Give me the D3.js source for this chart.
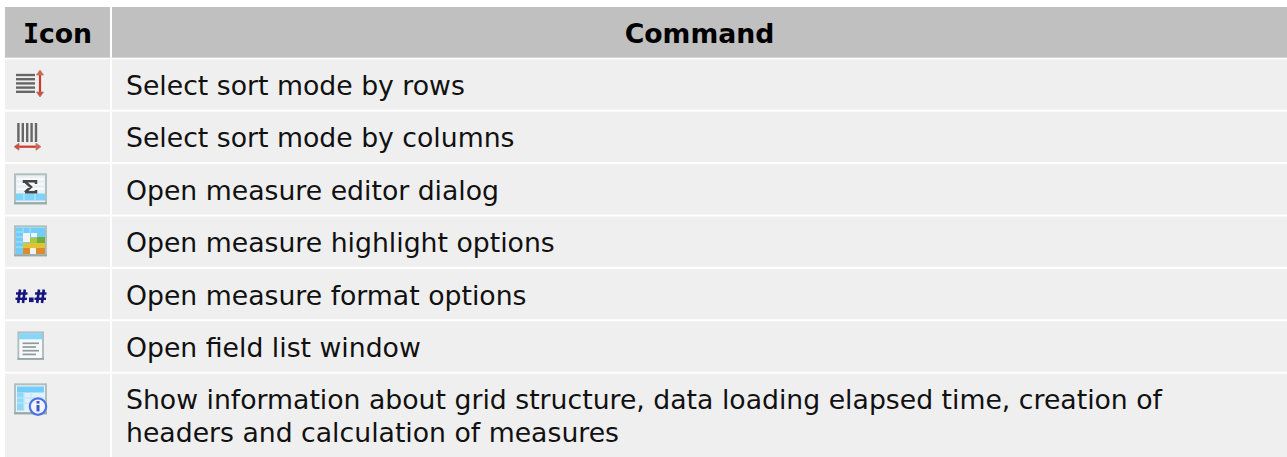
<!DOCTYPE html>
<html><head><meta charset="utf-8">
<script src="https://cdn.jsdelivr.net/npm/d3@7/dist/d3.min.js"></script>
<style>html,body{margin:0;padding:0;background:#fff}svg{display:block}
text{font-family:"DejaVu Sans",sans-serif;fill:#111}</style></head><body>
<script>
const headers = ["Icon", "Command"];
const iconKinds = ["rows","cols","sigma","highlight","format","fields","info"];
const commands = [
 ["Select sort mode by rows"],
 ["Select sort mode by columns"],
 ["Open measure editor dialog"],
 ["Open measure highlight options"],
 ["Open measure format options"],
 ["Open field list window"],
 ["Show information about grid structure, data loading elapsed time, creation of","headers and calculation of measures"]
];
const W=1287,H=457,FS=26.7;
const svg=d3.select("body").append("svg").attr("width",W).attr("height",H);
svg.append("defs").append("filter").attr("id","soft").attr("x","-20%").attr("y","-20%").attr("width","140%").attr("height","140%")
  .append("feGaussianBlur").attr("stdDeviation",0.7);
const rowY=d3.scaleLinear().domain([0,1]).range([59.3,111.7]);
const rowH=50.4;
const col=[{x:5,w:105},{x:112,w:1175}];

function rect(g,x,y,w,h,f,s,sw){const e=g.append("rect").attr("x",x).attr("y",y).attr("width",w).attr("height",h).attr("fill",f);if(s)e.attr("stroke",s).attr("stroke-width",sw||1.3);return e;}
function line(g,x1,y1,x2,y2,c,w){return g.append("line").attr("x1",x1).attr("y1",y1).attr("x2",x2).attr("y2",y2).attr("stroke",c).attr("stroke-width",w);}
function path(g,d,c,w,f){return g.append("path").attr("d",d).attr("stroke",c||"none").attr("stroke-width",w||0).attr("fill",f||"none");}
function arrowV(g,x,y1,y2){line(g,x,y1+2,x,y2-2,"#cc3a2a",2.2);
  path(g,`M${x-3.5},${y1+5}L${x},${y1}L${x+3.5},${y1+5}Z`,"#b9796f",0.8,"#d9604f");
  path(g,`M${x-3.5},${y2-5}L${x},${y2}L${x+3.5},${y2-5}Z`,"#b9796f",0.8,"#cc4a3a");}
function arrowH(g,y,x1,x2){line(g,x1+2,y,x2-2,y,"#cc3a2a",2.2);
  path(g,`M${x1+5},${y-3.5}L${x1},${y}L${x1+5},${y+3.5}Z`,"#b9796f",0.8,"#cc4a3a");
  path(g,`M${x2-5},${y-3.5}L${x2},${y}L${x2-5},${y+3.5}Z`,"#b9796f",0.8,"#d9604f");}
function box(g,x,y,w,h){
  rect(g,x,y,w,h,"#e9f1f2","#b0c0c0",2);
  line(g,x-1,y+h,x+w+1,y+h,"#98a8a8",2);
}
const drawIcon={
  rows(g){ [75,79.2,83.4,87.6,91.8].forEach(v=>line(g,16,v,35,v,"#666",2.4)); arrowV(g,40,70,97); },
  cols(g){ [18.4,22.8,27.2,31.6,36].forEach(v=>line(g,v,123,v,142,"#666",2.4)); arrowH(g,146.7,14,41); },
  sigma(g){ box(g,15,174.3,31,29);
    [179,184,189].forEach(v=>line(g,17,v,44,v,"#fdfdfd",1.6));
    rect(g,16,193.5,29,7,"#7fd3fb");
    [24,35].forEach(v=>line(g,v,194,v,200,"#c8eeff",1));
    path(g,"M24,183V181.3H36V184M25,181.7L31,187L25,192.3M25,192.3H36V190","#444",2.5);
  },
  highlight(g){ box(g,15,226.3,31,29);
    rect(g,16,227.5,29,26.5,"#6fcdfb");
    rect(g,23,233,7,9,"#f4f4f4"); rect(g,31,233,6,4,"#f4f4f4");
    rect(g,37,237,8,6,"#6fae3a"); rect(g,30,238,7,5,"#a9c83f");
    rect(g,23,243,22,5,"#dfc334"); rect(g,23,248,7,6,"#dd8a2a"); rect(g,36,248,9,6,"#dd8a2a");
    rect(g,30,248,6,6,"#f2f2f2");
    [232,237,242,247].forEach(v=>line(g,16,v,23,v,"#bfe9ff",0.8));
    [23,30].forEach(v=>line(g,v,228,v,233,"#bfe9ff",0.8));
  },
  format(g){ const c="#14147e";
    [16,35].forEach(x=>{
      line(g,x+4,289.5,x+2.2,303,c,2.6); line(g,x+8.8,289.5,x+7,303,c,2.6);
      line(g,x,293.5,x+11.5,293.5,c,2.4); line(g,x-0.5,298.8,x+11,298.8,c,2.4);
    });
    rect(g,29,297.5,4.6,4.6,c);
  },
  fields(g){ box(g,18.4,332.4,24.6,26.4);
    rect(g,19.2,333.2,23,6.3,"#86d5fb");
    rect(g,19.6,339.5,22.2,18.5,"#f8f9f9");
    [343.3,347,350.7,354.4].forEach((v,i)=>line(g,22.5,v,i%2?36:39,v,"#8d9a9e",1.7));
  },
  info(g){ box(g,15,384.3,31,29);
    rect(g,17,386.5,27,24,"#dff1fb");
    rect(g,17,386.5,27,6,"#74cdfb"); rect(g,17,392.5,7,18,"#8fd8fb");
    [398,403].forEach(v=>line(g,17,v,44,v,"#bfe6f8",1.2));
    [24,31].forEach(v=>line(g,v,392,v,410,"#bfe6f8",1.2));
    g.append("circle").attr("cx",38).attr("cy",406.6).attr("r",8.2).attr("fill","#f2f5ff").attr("stroke","#4f73e6").attr("stroke-width",2.2);
    rect(g,36.5,405,3,6.4,"#3d57c8"); rect(g,36.5,401,3,2.6,"#3d57c8");
  }
};

headers.forEach((h,i)=>{
  rect(svg,col[i].x,7,col[i].w,50.7,"#c0c0c0");
  const t=svg.append("text").attr("x",col[i].x+col[i].w/2).attr("y",42.6).attr("text-anchor","middle")
    .attr("font-size",FS).attr("font-weight","bold").style("fill","#000");
  if(h==="Icon"){ t.append("tspan").style("font-family","'DejaVu Sans Mono'").text("I"); t.append("tspan").text("con"); }
  else t.text(h);
});
commands.forEach((lines,r)=>{
  const y=rowY(r), h=r===6?H-y:rowH;
  col.forEach(c=>rect(svg,c.x,y,c.w,h,"#efefef"));
  lines.forEach((l,j)=>svg.append("text").attr("x",126).attr("y",y+35.75+j*32.5).attr("font-size",FS).text(l));
  drawIcon[iconKinds[r]](svg.append("g").attr("filter","url(#soft)"));
});
</script>
</body></html>
